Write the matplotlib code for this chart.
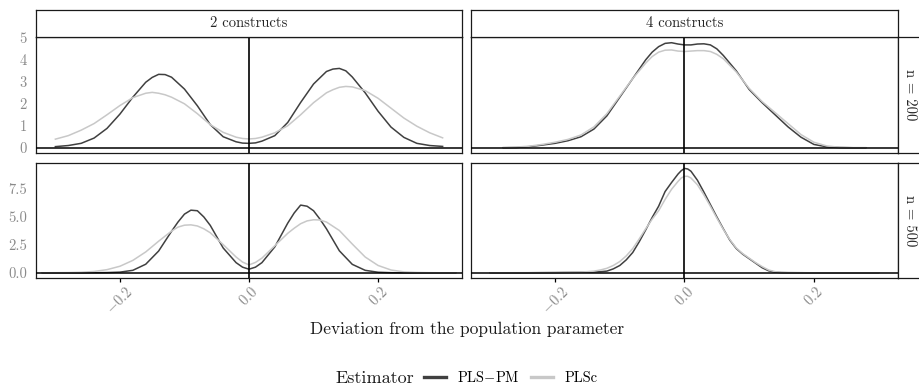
import matplotlib
matplotlib.use('Agg')
import matplotlib.pyplot as plt
from matplotlib.lines import Line2D

plt.rcParams['font.family'] = 'serif'
plt.rcParams['font.serif'] = ['cmr10']
plt.rcParams['mathtext.fontset'] = 'cm'
plt.rcParams['axes.unicode_minus'] = False

# ---- data (density of the deviation) ----
cols = ['2 constructs', '4 constructs']
rows = ['n = 200', 'n = 500']
estimators = [r'PLS$-$PM', 'PLSc']

# 2 constructs, n = 200
x_tl = [-0.30, -0.28, -0.26, -0.24, -0.22, -0.20, -0.18, -0.16, -0.15, -0.14, -0.13, -0.12,
        -0.10, -0.08, -0.06, -0.04, -0.02, -0.01, 0.00, 0.01, 0.02, 0.04, 0.06, 0.08,
        0.10, 0.12, 0.13, 0.14, 0.15, 0.16, 0.18, 0.20, 0.22, 0.24, 0.26, 0.28, 0.30]
pm_tl = [0.05, 0.1, 0.2, 0.44, 0.88, 1.53, 2.3, 2.98, 3.2, 3.34, 3.33, 3.21,
         2.67, 1.91, 1.05, 0.5, 0.27, 0.21, 0.2, 0.22, 0.3, 0.55, 1.15, 2.06,
         2.9, 3.47, 3.58, 3.61, 3.5, 3.22, 2.5, 1.66, 0.94, 0.47, 0.2, 0.1, 0.06]
c_tl = [0.39, 0.55, 0.8, 1.1, 1.5, 1.92, 2.28, 2.48, 2.52, 2.48, 2.41, 2.3,
        2.0, 1.55, 1.05, 0.7, 0.48, 0.42, 0.4, 0.42, 0.48, 0.68, 1.0, 1.5,
        2.05, 2.5, 2.64, 2.75, 2.79, 2.77, 2.6, 2.25, 1.8, 1.35, 0.98, 0.68, 0.45]

# 4 constructs, n = 200
x_tr = [-0.28, -0.26, -0.24, -0.22, -0.20, -0.18, -0.16, -0.14, -0.12, -0.10, -0.08, -0.06,
        -0.05, -0.04, -0.03, -0.02, -0.01, 0.00, 0.01, 0.02, 0.03, 0.04, 0.05, 0.06,
        0.08, 0.10, 0.12, 0.14, 0.16, 0.18, 0.20, 0.22, 0.24, 0.26, 0.28]
pm_tr = [0.0, 0.01, 0.05, 0.12, 0.2, 0.32, 0.5, 0.85, 1.45, 2.3, 3.15, 4.0,
         4.35, 4.6, 4.75, 4.78, 4.72, 4.68, 4.68, 4.72, 4.73, 4.68, 4.5, 4.2,
         3.5, 2.65, 2.05, 1.5, 0.95, 0.48, 0.15, 0.04, 0.01, 0.0, 0.0]
c_tr = [0.01, 0.03, 0.07, 0.15, 0.25, 0.38, 0.58, 0.95, 1.55, 2.35, 3.15, 3.85,
        4.15, 4.35, 4.44, 4.45, 4.4, 4.38, 4.4, 4.42, 4.42, 4.38, 4.25, 4.05,
        3.45, 2.7, 2.1, 1.6, 1.1, 0.6, 0.25, 0.08, 0.02, 0.0, 0.0]

# 2 constructs, n = 500
x_bl = [-0.32, -0.30, -0.28, -0.26, -0.24, -0.22, -0.20, -0.18, -0.16, -0.14, -0.12,
        -0.11, -0.10, -0.09, -0.08, -0.07, -0.06, -0.04, -0.02, -0.01, 0.00, 0.01,
        0.02, 0.04, 0.06, 0.07, 0.08, 0.09, 0.10, 0.11, 0.12, 0.14, 0.16, 0.18,
        0.20, 0.22, 0.24, 0.26, 0.28, 0.30, 0.32]
pm_bl = [0.0, 0.0, 0.0, 0.0, 0.01, 0.02, 0.06, 0.22, 0.76, 1.93, 3.68,
         4.5, 5.2, 5.55, 5.5, 4.95, 4.2, 2.2, 0.9, 0.5, 0.32, 0.5,
         0.9, 2.3, 4.4, 5.3, 6.0, 5.9, 5.5, 4.75, 3.9, 1.95, 0.75, 0.22,
         0.05, 0.01, 0.0, 0.0, 0.0, 0.0, 0.0]
c_bl = [0.0, 0.01, 0.02, 0.05, 0.12, 0.28, 0.58, 1.1, 1.85, 2.8, 3.7,
        4.05, 4.22, 4.25, 4.15, 3.9, 3.55, 2.5, 1.4, 0.95, 0.7, 0.92,
        1.3, 2.4, 3.5, 3.95, 4.35, 4.6, 4.7, 4.68, 4.5, 3.75, 2.55, 1.4,
        0.65, 0.25, 0.08, 0.03, 0.01, 0.0, 0.0]

# 4 constructs, n = 500
x_br = [-0.30, -0.25, -0.20, -0.16, -0.15, -0.14, -0.13, -0.12, -0.11, -0.10,
        -0.09, -0.08, -0.07, -0.06, -0.05, -0.04, -0.03, -0.02, -0.01, -0.005, 0.00,
        0.005, 0.01, 0.02, 0.03, 0.04, 0.05, 0.06, 0.07, 0.08, 0.09, 0.10,
        0.11, 0.12, 0.13, 0.14, 0.15, 0.16, 0.20, 0.25, 0.30]
pm_br = [0.0, 0.0, 0.02, 0.05, 0.06, 0.08, 0.1, 0.15, 0.35, 0.65,
         1.15, 1.8, 2.75, 3.8, 4.9, 5.9, 7.2, 8.0, 8.75, 9.05, 9.25,
         9.2, 9.0, 8.2, 7.15, 6.05, 4.95, 3.9, 2.9, 2.15, 1.65, 1.25,
         0.85, 0.45, 0.18, 0.06, 0.02, 0.01, 0.0, 0.0, 0.0]
c_br = [0.0, 0.01, 0.03, 0.07, 0.1, 0.15, 0.25, 0.4, 0.65, 1.0,
        1.5, 2.15, 3.0, 3.9, 4.75, 5.5, 6.5, 7.4, 8.1, 8.4, 8.55,
        8.55, 8.4, 7.8, 6.9, 5.9, 4.85, 3.85, 2.95, 2.2, 1.7, 1.3,
        0.9, 0.55, 0.25, 0.1, 0.04, 0.02, 0.0, 0.0, 0.0]

x_ticks = [-0.2, 0.0, 0.2]
x_ticklabels = [r'$-0.2$', r'$0.0$', r'$0.2$']
y_ticks = [[0, 1, 2, 3, 4, 5], [0.0, 2.5, 5.0, 7.5]]
y_ticklabels = [['0', '1', '2', '3', '4', '5'], ['0.0', '2.5', '5.0', '7.5']]
y_lims = [(-0.24, 5.04), (-0.46, 9.73)]

panels = [[(x_tl, pm_tl, c_tl), (x_tr, pm_tr, c_tr)],
          [(x_bl, pm_bl, c_bl), (x_br, pm_br, c_br)]]

DARK = '#404040'
LIGHT = '#c8c8c8'
TICKCOL = '#8a8a8a'
STRIPTXT = '#262626'

W, H = 920.0, 386.0
def box(x0, y0, x1, y1):
    return [x0 / W, 1 - y1 / H, (x1 - x0) / W, (y1 - y0) / H]

col_x = [(36, 462), (471, 898)]
row_y = [(37, 153), (163, 278)]

fig = plt.figure(figsize=(9.2, 3.86), dpi=100)

for r in range(2):
    for c in range(2):
        ax = fig.add_axes(box(col_x[c][0], row_y[r][0], col_x[c][1], row_y[r][1]))
        xs, pm, pc = panels[r][c]
        ax.plot(xs, pm, color=DARK, lw=1.1, zorder=2)
        ax.plot(xs, pc, color=LIGHT, lw=1.1, zorder=2)
        ax.axhline(0, color='black', lw=1.1, zorder=3)
        ax.axvline(0, color='black', lw=1.2, zorder=3)
        ax.set_xlim(-0.33, 0.33)
        ax.set_ylim(*y_lims[r])
        for s in ax.spines.values():
            s.set_color('#1a1a1a')
            s.set_linewidth(0.9)
        ax.set_yticks(y_ticks[r])
        if c == 0:
            ax.set_yticklabels(y_ticklabels[r])
        else:
            ax.set_yticklabels([])
        ax.tick_params(axis='y', length=0, pad=6.5, labelcolor=TICKCOL, labelsize=10.5)
        ax.set_xticks(x_ticks)
        if r == 1:
            ax.set_xticklabels(x_ticklabels, rotation=45)
            ax.tick_params(axis='x', length=3, width=0.9, color='black', pad=1,
                           labelcolor=TICKCOL, labelsize=10.5)
        else:
            ax.tick_params(axis='x', length=0, labelbottom=False)

# strips on top
for c in range(2):
    sa = fig.add_axes(box(col_x[c][0], 10, col_x[c][1], 37))
    sa.set_xticks([]); sa.set_yticks([])
    for s in sa.spines.values():
        s.set_color('#1a1a1a'); s.set_linewidth(0.9)
    sa.text(0.5, 0.5, cols[c], ha='center', va='center', fontsize=10.5,
            color=STRIPTXT, transform=sa.transAxes)

# strips on the right
for r in range(2):
    sa = fig.add_axes(box(898, row_y[r][0], 922, row_y[r][1]))
    sa.set_xticks([]); sa.set_yticks([])
    for s in sa.spines.values():
        s.set_color('#1a1a1a'); s.set_linewidth(0.9)
    sa.text(0.5, 0.5, rows[r], ha='center', va='center', fontsize=10.5, rotation=270,
            color=STRIPTXT, transform=sa.transAxes)

fig.text(467 / W, 1 - 329 / H, 'Deviation from the population parameter',
         ha='center', va='center', fontsize=12.5, color='#1a1a1a')

fig.text(335 / W, 1 - 378 / H, 'Estimator', ha='left', va='center', fontsize=13,
         color='#1a1a1a')
handles = [Line2D([], [], color=DARK, lw=2.4), Line2D([], [], color=LIGHT, lw=2.4)]
fig.legend(handles, estimators, ncol=2, loc='center left',
           bbox_to_anchor=(424 / W, 1 - 378 / H), frameon=False, fontsize=10.4,
           handlelength=1.5, handletextpad=0.8, columnspacing=0.8,
           borderpad=0, borderaxespad=0)

fig.savefig('out.png', dpi=100)
